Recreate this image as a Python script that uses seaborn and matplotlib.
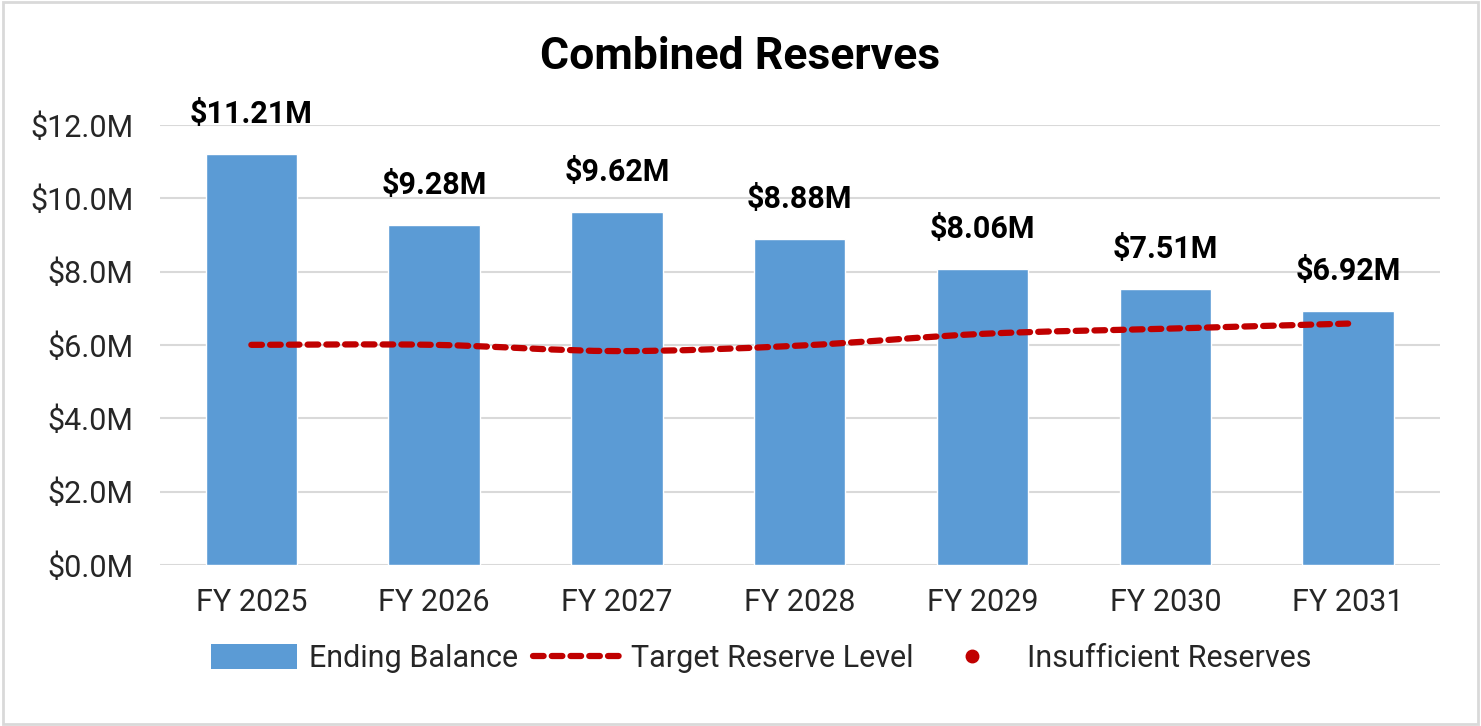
"""
Combined Reserves chart - ending balance bars with target reserve line
"""

import numpy as np
import pandas as pd
import matplotlib.pyplot as plt
from matplotlib.path import Path
from matplotlib.patches import PathPatch, Rectangle, Patch
from matplotlib.lines import Line2D
import seaborn as sns

# Data (values in $M)
years = ['FY 2025', 'FY 2026', 'FY 2027', 'FY 2028', 'FY 2029', 'FY 2030', 'FY 2031']
ending_balance = [11.21, 9.28, 9.62, 8.88, 8.06, 7.51, 6.92]
target_reserve = [6.0, 6.0, 5.83, 5.98, 6.3, 6.44, 6.58]
yticks = [0, 2, 4, 6, 8, 10, 12]

BAR_COLOR = '#5B9BD5'
LINE_COLOR = '#C00000'
GRID_COLOR = '#D9D9D9'
DASH = (0, (1.7, 1.3))

sns.set_theme(style='white')
plt.rcParams['font.family'] = ['Roboto', 'DejaVu Sans']


def smooth_path(xs, ys):
    """Excel-like smoothed line: Catmull-Rom segments as cubic Bezier curves"""
    pts = np.column_stack([xs, ys]).astype(float)
    verts = [pts[0]]
    codes = [Path.MOVETO]
    n = len(pts)
    for i in range(n - 1):
        p0 = pts[i - 1] if i > 0 else pts[i]
        p1 = pts[i]
        p2 = pts[i + 1]
        p3 = pts[i + 2] if i + 2 < n else pts[i + 1]
        c1 = p1 + (p2 - p0) / 6.0
        c2 = p2 - (p3 - p1) / 6.0
        verts += [c1, c2, p2]
        codes += [Path.CURVE4] * 3
    return Path(verts, codes)


df = pd.DataFrame({'year': years, 'balance': ending_balance, 'target': target_reserve})

fig = plt.figure(figsize=(14.81, 7.26), dpi=100)
ax = fig.add_axes([0.108, 0.222, 0.864, 0.606])

sns.barplot(data=df, x='year', y='balance', color=BAR_COLOR, width=0.5,
            saturation=1, ax=ax, zorder=2)

# Target reserve line (smoothed, dashed)
xs = np.arange(len(years))
patch = PathPatch(smooth_path(xs, df['target'].values), facecolor='none',
                  edgecolor=LINE_COLOR, linewidth=4.5, linestyle=DASH,
                  capstyle='round', zorder=3)
ax.add_patch(patch)

# Data labels
for i, v in enumerate(ending_balance):
    ax.annotate(f'${v:.2f}M', xy=(i, v), xytext=(0, 18), textcoords='offset points',
                ha='center', va='bottom', fontsize=22, fontweight='bold', color='black')

ax.set_xlim(-0.5, len(years) - 0.5)
ax.set_ylim(0, 12)
ax.set_yticks(yticks)
ax.set_yticklabels([f'${t:.1f}M' for t in yticks])
ax.yaxis.grid(True, color=GRID_COLOR, linewidth=1.5, zorder=0)
ax.set_axisbelow(True)
ax.set_xlabel('')
ax.set_ylabel('')
ax.tick_params(axis='both', labelsize=22, colors='#262626', length=0)
ax.tick_params(axis='x', pad=17)
ax.tick_params(axis='y', pad=19)
for s in ax.spines.values():
    s.set_visible(False)

fig.text(0.5, 0.921, 'Combined Reserves', ha='center', va='center',
         fontsize=32, fontweight='bold', color='black')

# Legend
handles = [
    Patch(facecolor=BAR_COLOR, edgecolor='none'),
    Line2D([0], [0], color=LINE_COLOR, linewidth=4.5, linestyle=DASH,
           dash_capstyle='round'),
    Line2D([0], [0], color=LINE_COLOR, marker='o', linestyle='none', markersize=9),
]
labels = ['Ending Balance', 'Target Reserve Level', 'Insufficient Reserves']
fig.legend(handles, labels, loc='center', bbox_to_anchor=(0.514, 0.093), ncol=3,
           frameon=False, fontsize=22, handlelength=2.8, handleheight=0.85,
           columnspacing=0.5, handletextpad=0.4)

# Chart border
fig.patches.append(Rectangle((0.002, 0.003), 0.996, 0.994, transform=fig.transFigure,
                             fill=False, edgecolor=GRID_COLOR, linewidth=2))

plt.savefig('out.png', dpi=100)
plt.close()
